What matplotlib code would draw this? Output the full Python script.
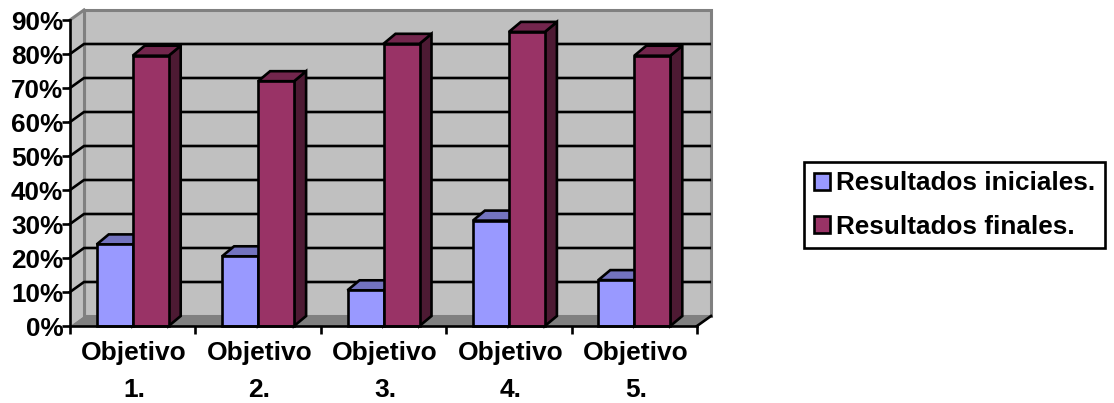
import matplotlib; matplotlib.use("Agg")
import matplotlib.pyplot as plt
from matplotlib.patches import Polygon

plt.rcParams['font.family'] = ['Liberation Sans', 'DejaVu Sans']
plt.rcParams['font.weight'] = 'bold'

categorias = ["Objetivo\n1.", "Objetivo\n2.", "Objetivo\n3.", "Objetivo\n4.", "Objetivo\n5."]
iniciales = [24, 20.5, 10.5, 31, 13.5]
finales = [79.5, 72, 83, 86.5, 79.5]
pct_ticks = [0, 10, 20, 30, 40, 50, 60, 70, 80, 90]

AZUL = ("#9999FF", "#7373BF", "#4D4D80")  # frente, tapa, lateral
VINO = ("#993366", "#73264D", "#4D1A33")
W, H = 1114, 403
DX, DY = 14/125.4, 10/3.4   # profundidad del fondo (unidades de datos)
BDX = 12/125.4              # profundidad de la barra
ANCHO = 36/125.4
LW = 1.9

fig = plt.figure(figsize=(W/100, H/100), dpi=100)
ax = fig.add_axes([70/W, (H-326)/H, 627/W, 306/H])
ax.set_xlim(0, 5); ax.set_ylim(0, 90)
ax.patch.set_visible(False)
n = len(categorias)

def poly(pts, fc, ec="none", lw=0, z=1):
    ax.add_patch(Polygon(pts, closed=True, facecolor=fc, edgecolor=ec, lw=lw, zorder=z, clip_on=False, joinstyle="miter"))

# paredes y piso
poly([(DX, DY+90), (n+DX, DY+90), (n+DX, DY), (DX, DY)], "#C0C0C0", "#808080", 2.2, 1)
poly([(0, 0), (DX, DY), (DX, DY+90), (0, 90)], "#C0C0C0", "none", 0, 1)
ax.plot([DX, DX], [DY, DY+90], color="#808080", lw=2.2, zorder=1.2, clip_on=False)
ax.plot([0, DX], [90, DY+90], color="#808080", lw=2.2, zorder=1.2, clip_on=False)
poly([(0, 0), (n, 0), (n+DX, DY), (DX, DY)], "#808080", "none", 0, 1.3)
ax.plot([n, n+DX], [0, DY], color="k", lw=LW, zorder=1.4, clip_on=False)

# rejilla
for v in pct_ticks[1:-1]:
    ax.plot([0, DX, n+DX-0.01], [v, v+DY, v+DY], color="k", lw=LW, zorder=1.5, clip_on=False)

# barras
z = 2
for i in range(n):
    for off, val, col in [(-ANCHO, iniciales[i], AZUL), (0, finales[i], VINO)]:
        x0 = i+0.5+off; x1 = x0+ANCHO
        poly([(x1, 0), (x1+BDX, DY), (x1+BDX, val+DY), (x1, val)], col[2], "k", LW, z)
        poly([(x0, val), (x0+BDX, val+DY), (x1+BDX, val+DY), (x1, val)], col[1], "k", LW, z)
        ax.bar(x0, val, ANCHO, align="edge", color=col[0], edgecolor="k", lw=LW, zorder=z+0.1, clip_on=False)
        z += 1

for s in ("top", "right"):
    ax.spines[s].set_visible(False)
for s in ("left", "bottom"):
    ax.spines[s].set_linewidth(LW); ax.spines[s].set_zorder(30)

ax.set_yticks(pct_ticks, [f"{v}%" for v in pct_ticks])
ax.set_xticks(range(n+1), [""]*(n+1))
ax.set_xticks([i+0.512 for i in range(n)], categorias, minor=True)
ax.tick_params(axis="y", length=6, width=LW, pad=-1.2, labelsize=18.8)
ax.tick_params(axis="x", which="major", length=6, width=LW)
ax.tick_params(axis="x", which="minor", length=0, pad=11, labelsize=19)
for t in ax.get_xticklabels(minor=True):
    t.set_linespacing(1.68)

h = [plt.Rectangle((0, 0), 1, 1, facecolor=AZUL[0], edgecolor="k", lw=LW),
     plt.Rectangle((0, 0), 1, 1, facecolor=VINO[0], edgecolor="k", lw=LW)]
leg = fig.legend(h, ["Resultados iniciales.", "Resultados finales."], loc="center left",
                 bbox_to_anchor=(804/W, 1-205/H), fontsize=18.8, frameon=True, fancybox=False,
                 edgecolor="k", framealpha=1, borderaxespad=0, handlelength=0.62, handleheight=0.62,
                 handletextpad=0.23, labelspacing=0.74, borderpad=0.37)
leg.get_frame().set_linewidth(LW)

fig.savefig("out.png", dpi=100)
